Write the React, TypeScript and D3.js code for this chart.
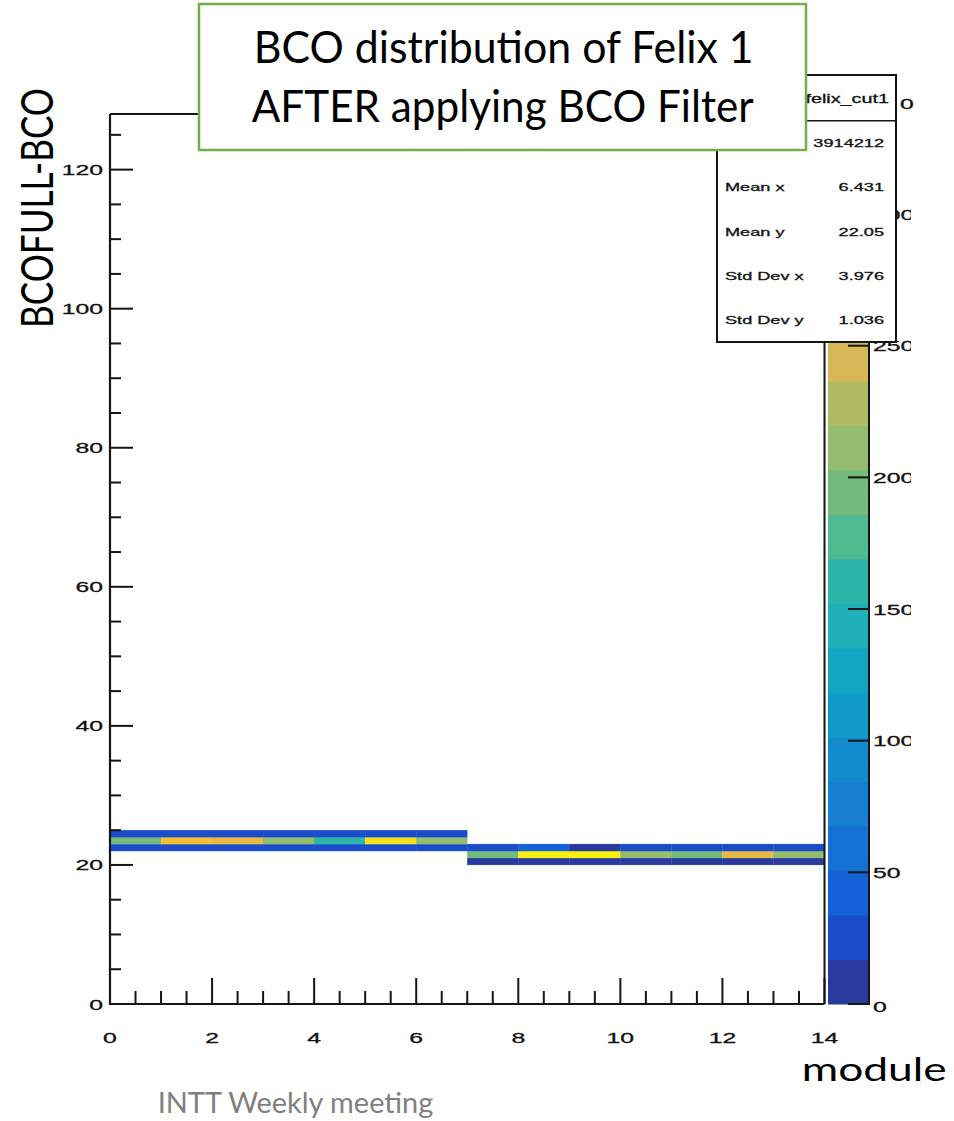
import React from "react";
import * as d3 from "d3";

// ---------- data (counts in units of 10^3) ----------
const leftModules = [0, 1, 2, 3, 4, 5, 6];
const rightModules = [7, 8, 9, 10, 11, 12, 13];
const leftBcoBins = [22, 23, 24];
const rightBcoBins = [20, 21, 22];
const leftBco22 = [22, 24, 23, 25, 22, 26, 23];
const leftBco23 = [194, 280, 262, 212, 160, 312, 210];
const leftBco24 = [24, 25, 23, 26, 24, 25, 22];
const rightBco20 = [10, 9, 11, 10, 9, 10, 11];
const rightBco21 = [195, 335, 338, 214, 192, 265, 212];
const rightBco22 = [25, 42, 12, 28, 26, 30, 25];

const xTickLabels = [0, 2, 4, 6, 8, 10, 12, 14];
const yTickLabels = [0, 20, 40, 60, 80, 100, 120];
const zTickLabels = [0, 50, 100, 150, 200, 250, 300];
const zExponentVisible = "0";

const statsLabels = ["Entries", "Mean x", "Mean y", "Std Dev x", "Std Dev y"];
const statsValues = ["3914212", "6.431", "22.05", "3.976", "1.036"];
const histName = "felix_cut1";

const titleLines = ["BCO distribution of Felix 1", "AFTER applying BCO Filter"];
const yTitle = "BCOFULL-BCO";
const xTitle = "module";
const footer = "INTT Weekly meeting";

const X_MAX = 14;
const Y_MAX = 128;
const Z_MAX = 338;

const PALETTE = [
  "#2B3A9F", "#1B4CC9", "#1562D8", "#1671D5", "#167FD1",
  "#138CCD", "#109BC9", "#12A6C3", "#1FB0B8", "#2CB5A8",
  "#52BA90", "#74BC7D", "#93BC6E", "#B1BB63", "#D6B858",
  "#E8BA46", "#F4BF35", "#F7CF2A", "#F6E020", "#F8F20C",
];

// ---------- layout ----------
const W = 954;
const H = 1121;
const frame = { left: 110, right: 824.5, top: 114, bottom: 1004 };
const cbar = { left: 828, right: 868 };
const SX = 1.65;
const ROOT_FONT = "'Liberation Sans', Arial, Helvetica, sans-serif";
const SLIDE_FONT = "Lato, 'Open Sans', sans-serif";

const xScale = d3.scaleLinear().domain([0, X_MAX]).range([frame.left, frame.right]);
const yScale = d3.scaleLinear().domain([0, Y_MAX]).range([frame.bottom, frame.top]);
const zScale = d3.scaleLinear().domain([0, Z_MAX]).range([frame.bottom, frame.top]);
const colorScale = d3.scaleQuantize<string>().domain([0, Z_MAX]).range(PALETTE);

type Cell = { m: number; b: number; v: number };
function buildCells(): Cell[] {
  const cells: Cell[] = [];
  const leftRows = [leftBco22, leftBco23, leftBco24];
  const rightRows = [rightBco20, rightBco21, rightBco22];
  leftBcoBins.forEach((b, r) =>
    leftModules.forEach((m, i) => cells.push({ m, b, v: leftRows[r][i] }))
  );
  rightBcoBins.forEach((b, r) =>
    rightModules.forEach((m, i) => cells.push({ m, b, v: rightRows[r][i] }))
  );
  return cells;
}

function RText(props: {
  x: number;
  y: number;
  size: number;
  anchor?: "start" | "middle" | "end";
  children: React.ReactNode;
}) {
  return (
    <text
      transform={`translate(${props.x},${props.y}) scale(${SX},1)`}
      textAnchor={props.anchor || "start"}
      fontFamily={ROOT_FONT}
      fontSize={props.size}
      fill="#111"
      stroke="#111"
      strokeWidth={0.3}
    >
      {props.children}
    </text>
  );
}

export default function App() {
  const cells = buildCells();
  const xMinor = d3.range(0, X_MAX + 0.001, 0.5);
  const yMinor = d3.range(0, Y_MAX + 0.001, 5);
  const stroke = "#151515";
  const statsTop = 75;
  const statsBottom = 342;
  const statsLeft = 717;
  const statsRight = 896;
  const statsRowY = (i: number) => 142.7 + i * 44.4;

  return (
    <svg
      width={W}
      height={H}
      viewBox={`0 0 ${W} ${H}`}
      style={{ position: "absolute", left: 0, top: 0, background: "#fff" }}
    >
      <defs>
        <clipPath id="zlabclip">
          <rect x={868} y={0} width={43} height={H} />
        </clipPath>
      </defs>
      <rect x={0} y={0} width={W} height={H} fill="#fff" />

      {/* heatmap cells */}
      {cells.map((c, i) => (
        <rect
          key={i}
          x={xScale(c.m)}
          y={yScale(c.b + 1)}
          width={xScale(c.m + 1) - xScale(c.m)}
          height={yScale(c.b) - yScale(c.b + 1)}
          fill={colorScale(c.v)}
          stroke={colorScale(c.v)}
          strokeWidth={0.3}
        />
      ))}

      {/* frame */}
      <line x1={frame.left} x2={frame.right} y1={frame.top} y2={frame.top} stroke={stroke} strokeWidth={2} />
      <line x1={frame.right} x2={frame.right} y1={frame.top} y2={frame.bottom} stroke={stroke} strokeWidth={2} />
      <line x1={frame.left} x2={frame.left} y1={frame.top} y2={frame.bottom + 1} stroke={stroke} strokeWidth={2.2} />
      <line x1={frame.left - 1} x2={frame.right} y1={frame.bottom} y2={frame.bottom} stroke={stroke} strokeWidth={2.2} />

      {/* x ticks */}
      {xMinor.map((t) => {
        const major = xTickLabels.includes(t);
        return (
          <line
            key={"xt" + t}
            x1={xScale(t)}
            x2={xScale(t)}
            y1={frame.bottom}
            y2={frame.bottom - (major ? 26 : 13)}
            stroke={stroke}
            strokeWidth={2}
          />
        );
      })}
      {xTickLabels.map((t) => (
        <RText key={"xl" + t} x={xScale(t)} y={1042.5} size={15} anchor="middle">
          {String(t)}
        </RText>
      ))}

      {/* y ticks */}
      {yMinor.map((t) => {
        const major = yTickLabels.includes(t);
        return (
          <line
            key={"yt" + t}
            x1={frame.left}
            x2={frame.left + (major ? 23 : 11)}
            y1={yScale(t)}
            y2={yScale(t)}
            stroke={stroke}
            strokeWidth={2}
          />
        );
      })}
      {yTickLabels.map((t) => (
        <RText key={"yl" + t} x={103} y={yScale(t) + 5.5} size={15} anchor="end">
          {String(t)}
        </RText>
      ))}

      {/* color bar */}
      {PALETTE.map((c, i) => (
        <rect
          key={"cb" + i}
          x={cbar.left}
          y={zScale(((i + 1) * Z_MAX) / PALETTE.length)}
          width={cbar.right - cbar.left}
          height={zScale((i * Z_MAX) / PALETTE.length) - zScale(((i + 1) * Z_MAX) / PALETTE.length) + 0.5}
          fill={c}
        />
      ))}
      <line x1={cbar.right + 1} x2={cbar.right + 1} y1={frame.top} y2={frame.bottom + 1} stroke={stroke} strokeWidth={2} />
      {zTickLabels.map((t) => (
        <line
          key={"zt" + t}
          x1={cbar.right - 20}
          x2={cbar.right + 1}
          y1={zScale(t)}
          y2={zScale(t)}
          stroke={stroke}
          strokeWidth={2}
        />
      ))}
      <g clipPath="url(#zlabclip)">
        {zTickLabels.map((t) => (
          <RText key={"zl" + t} x={873} y={zScale(t) + (t === 0 ? 8 : 5.5)} size={15}>
            {String(t)}
          </RText>
        ))}
      </g>
      <RText x={900} y={108.5} size={15}>
        {zExponentVisible}
      </RText>

      {/* stats box */}
      <rect
        x={statsLeft}
        y={statsTop}
        width={statsRight - statsLeft}
        height={statsBottom - statsTop}
        fill="#fff"
        stroke={stroke}
        strokeWidth={2}
      />
      <line x1={statsLeft} x2={statsRight} y1={120.7} y2={120.7} stroke={stroke} strokeWidth={1.5} />
      <RText x={889} y={103} size={12} anchor="end">
        {histName}
      </RText>
      {statsLabels.map((l, i) => (
        <g key={"st" + i}>
          <RText x={725} y={statsRowY(i) + 4} size={11}>
            {l}
          </RText>
          <RText x={884} y={statsRowY(i) + 4} size={11} anchor="end">
            {statsValues[i]}
          </RText>
        </g>
      ))}

      {/* slide title box */}
      <rect x={199} y={4} width={607} height={146} fill="#fff" stroke="#70AD47" strokeWidth={2.5} />
      <text
        x={253.7}
        y={63.3}
        fontFamily={SLIDE_FONT}
        fontSize={44}
        fill="#000"
        textLength={500}
        lengthAdjust="spacingAndGlyphs"
      >
        {titleLines[0]}
      </text>
      <text
        x={251.7}
        y={121.7}
        fontFamily={SLIDE_FONT}
        fontSize={44}
        fill="#000"
        textLength={502}
        lengthAdjust="spacingAndGlyphs"
      >
        {titleLines[1]}
      </text>

      {/* axis titles */}
      <text
        transform="translate(53,328) rotate(-90)"
        fontFamily={SLIDE_FONT}
        fontSize={44}
        fill="#000"
        textLength={240}
        lengthAdjust="spacingAndGlyphs"
      >
        {yTitle}
      </text>
      <text
        x={801.7}
        y={1080.7}
        fontFamily={SLIDE_FONT}
        fontSize={33}
        fill="#000"
        textLength={145}
        lengthAdjust="spacingAndGlyphs"
      >
        {xTitle}
      </text>
      <text
        x={157.7}
        y={1113.3}
        fontFamily={SLIDE_FONT}
        fontSize={28}
        fill="#808080"
        textLength={275.6}
        lengthAdjust="spacingAndGlyphs"
      >
        {footer}
      </text>
    </svg>
  );
}
